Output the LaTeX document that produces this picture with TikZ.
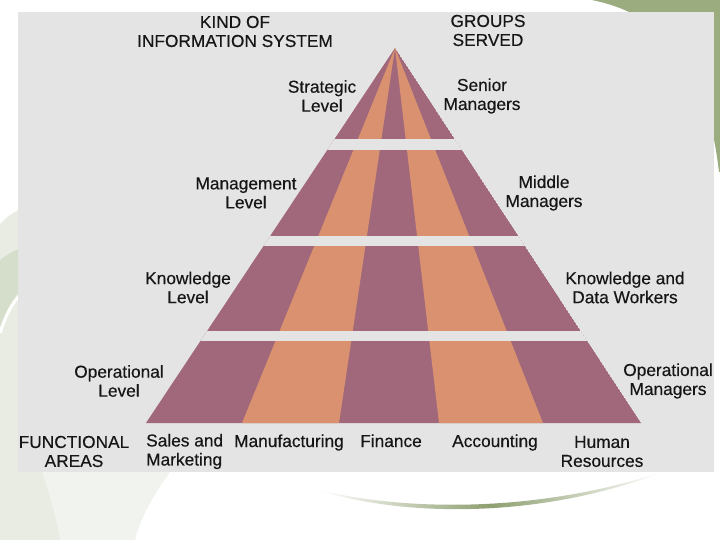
\documentclass[tikz,border=0pt]{standalone}
\usepackage{fontspec}
\setmainfont{Liberation Sans}
\newfontfamily\lblfont{Liberation Sans}[FakeBold=0.35]
\definecolor{bg}{HTML}{E4E4E4}
\definecolor{mauve}{HTML}{A0687A}
\definecolor{peach}{HTML}{D9916F}
\definecolor{leaf}{HTML}{9BAC7F}
\definecolor{swoosh}{HTML}{8E9F70}
\definecolor{paleleaf}{HTML}{E8ECE2}
\definecolor{faintleaf}{HTML}{F1F3EE}
\definecolor{midleaf}{HTML}{D5DDCB}
\definecolor{ink}{HTML}{161616}
\tikzset{
  lbl/.style={font=\lblfont\fontsize{17.3}{19}\selectfont, text=ink, align=center, inner sep=0pt},
  gapband/.style={fill=bg},
}
\begin{document}
\begin{tikzpicture}[x=1pt,y=-1pt]
\useasboundingbox (0,0) rectangle (720,540);
\fill[white] (0,0) rectangle (720,540);
% decorative swooshes behind the panel
\fill[leaf] (592,0) .. controls (660,14) and (706,60) .. (719,172) -- (720,172) -- (720,0) -- cycle;
\fill[faintleaf] (25,472) -- (170,472) .. controls (150,500) and (140,520) .. (135,540) -- (25,540) -- cycle;
\fill[paleleaf] (0,224) .. controls (8,216) .. (25,206) -- (25,472) -- (42,472)
   .. controls (50,495) and (56,518) .. (60,540) -- (0,540) -- cycle;
\fill[midleaf] (0,260) .. controls (8,254) .. (25,246) -- (25,286)
   .. controls (12,298) and (5,312) .. (0,328) -- cycle;
\draw[white, line width=3pt] (0,333) .. controls (6,315) and (12,302) .. (25,290);
\shade[left color=white, right color=white, middle color=swoosh]
   (318,490) .. controls (410,512) and (540,512) .. (662,472)
   .. controls (545,518) and (405,518) .. (318,490) -- cycle;
% panel
\fill[bg] (18,12) rectangle (714,472);
% pyramid
\begin{scope}
\clip (395,48) -- (641,423) -- (146,423) -- cycle;
\fill[mauve] (395,48) -- (641,423) -- (146,423) -- cycle;
\fill[peach] (395,48) -- (242,423) -- (339,423) -- cycle;
\fill[peach] (395,48) -- (439,423) -- (543,423) -- cycle;
\fill[gapband] (100,139) rectangle (700,150.5);
\fill[gapband] (100,236) rectangle (700,245.5);
\fill[gapband] (100,330.5) rectangle (700,340.5);
\end{scope}
% labels
\node[lbl] (kind) at (235,31.5) {KIND OF\\INFORMATION SYSTEM};
\node[lbl] (groups) at (488,30.5) {GROUPS\\SERVED};
\node[lbl] (strat) at (322,96) {Strategic\\Level};
\node[lbl] (senior) at (482,96) {Senior\\Managers};
\node[lbl] (mgmt) at (246,193) {Management\\Level};
\node[lbl] (middle) at (544,193) {Middle\\Managers};
\node[lbl] (know) at (188,287.5) {Knowledge\\Level};
\node[lbl] (kdw) at (625,287.5) {Knowledge and\\Data Workers};
\node[lbl] (oper) at (119,381) {Operational\\Level};
\node[lbl] (opman) at (668,381) {Operational\\Managers};
\node[lbl] (func) at (74,451.5) {FUNCTIONAL\\AREAS};
\node[lbl, align=left, anchor=west] (sales) at (146,451.5) {Sales and\\Marketing};
\node[lbl, anchor=base] (manu) at (289,447) {Manufacturing};
\node[lbl, anchor=base] (fin) at (391,447) {Finance};
\node[lbl, anchor=base] (acc) at (495,447) {Accounting};
\node[lbl] (hr) at (602,451.5) {Human\\Resources};
\end{tikzpicture}
\end{document}
